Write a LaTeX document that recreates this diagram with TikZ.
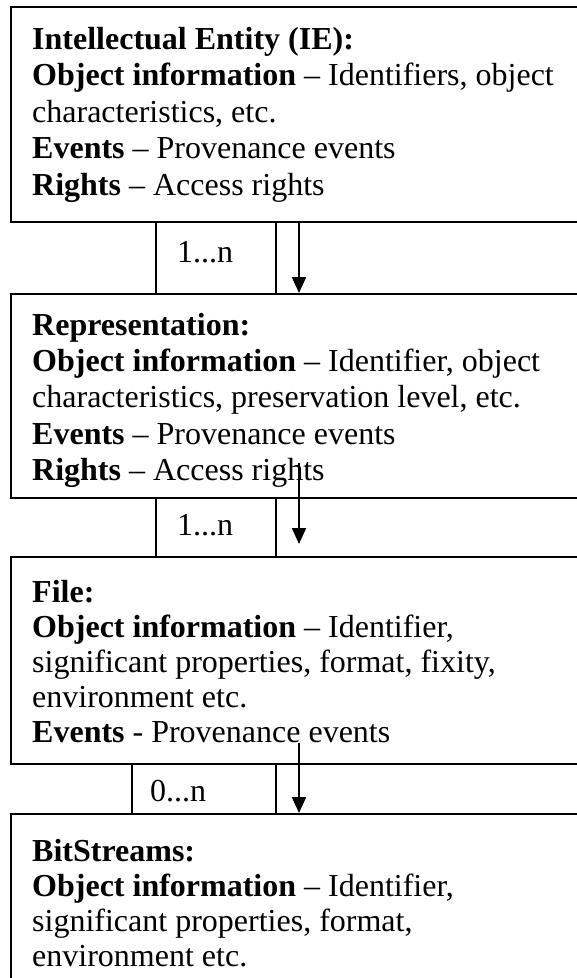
\documentclass[tikz,border=0pt]{standalone}
\usepackage{fontspec}
\setmainfont{Liberation Serif}
\usetikzlibrary{arrows.meta}
\begin{document}
\begin{tikzpicture}[x=1pt,y=1pt,
  entbox/.style={draw=black,line width=2pt,rectangle,inner sep=0pt,anchor=north west,minimum width=620pt},
  cardbox/.style={draw=black,line width=2pt,rectangle,inner sep=0pt,anchor=north west},
  txt/.style={anchor=base west,inner sep=0pt,font=\fontsize{32}{36}\selectfont,text=black},
  link/.style={line width=2pt,-{Triangle[width=14pt,length=16pt]}}]
\useasboundingbox (0,0) rectangle (577,-978);
\fill[white] (0,0) rectangle (577,-978);
% entity boxes
\node[entbox,minimum height=215pt] (ie) at (10,-6) {};
\node[entbox,minimum height=204pt] (rep) at (10,-293) {};
\node[entbox,minimum height=207pt] (file) at (10,-556) {};
\node[entbox,minimum height=220pt] (bit) at (10,-813) {};
% cardinality boxes
\node[cardbox,minimum width=120pt,minimum height=72pt] (c1) at (155,-221) {};
\node[cardbox,minimum width=120pt,minimum height=59pt] (c2) at (155,-497) {};
\node[cardbox,minimum width=144pt,minimum height=50pt] (c3) at (131,-763) {};
\node[txt] (c1t) at (177,-262) {1...n};
\node[txt] (c2t) at (177,-535) {1...n};
\node[txt] (c3t) at (150,-801) {0...n};
% IE text
\node[txt] (t1a) at (32,-49) {\textbf{Intellectual Entity (IE):}};
\node[txt] (t1b) at (32,-85.5) {\textbf{Object information} – Identifiers, object};
\node[txt] (t1c) at (32,-122) {characteristics, etc.};
\node[txt] (t1d) at (32,-158.5) {\textbf{Events} – Provenance events};
\node[txt] (t1e) at (32,-195) {\textbf{Rights} – Access rights};
% Representation text
\node[txt] (t2a) at (32,-335) {\textbf{Representation:}};
\node[txt] (t2b) at (32,-371.5) {\textbf{Object information} – Identifier, object};
\node[txt] (t2c) at (32,-407.5) {characteristics, preservation level, etc.};
\node[txt] (t2d) at (32,-444) {\textbf{Events} – Provenance events};
\node[txt] (t2e) at (32,-480) {\textbf{Rights} – Access rights};
% File text
\node[txt] (t3a) at (32,-602) {\textbf{File:}};
\node[txt] (t3b) at (32,-637.5) {\textbf{Object information} – Identifier,};
\node[txt] (t3c) at (32,-672.5) {significant properties, format, fixity,};
\node[txt] (t3d) at (32,-707.5) {environment etc.};
\node[txt] (t3e) at (32,-742.5) {\textbf{Events} - Provenance events};
% BitStreams text
\node[txt] (t4a) at (32,-861) {\textbf{BitStreams:}};
\node[txt] (t4b) at (32,-896) {\textbf{Object information} – Identifier,};
\node[txt] (t4c) at (32,-931) {significant properties, format,};
\node[txt] (t4d) at (32,-966) {environment etc.};
% connectors
\coordinate (a1s) at (299,-221);
\coordinate (a2s) at (299,-463);
\coordinate (a2e) at (299,-544);
\coordinate (a3s) at (299,-743);
\draw[link] (a1s) -- (a1s |- rep.north);
\draw[link] (a2s) -- (a2e);
\draw[link] (a3s) -- (a3s |- bit.north);
\end{tikzpicture}
\end{document}
